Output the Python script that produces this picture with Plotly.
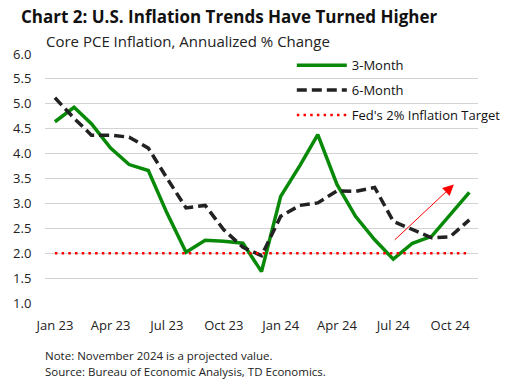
import plotly.graph_objects as go

months = ["2023-01-01", "2023-02-01", "2023-03-01", "2023-04-01", "2023-05-01", "2023-06-01",
          "2023-07-01", "2023-08-01", "2023-09-01", "2023-10-01", "2023-11-01", "2023-12-01",
          "2024-01-01", "2024-02-01", "2024-03-01", "2024-04-01", "2024-05-01", "2024-06-01",
          "2024-07-01", "2024-08-01", "2024-09-01", "2024-10-01", "2024-11-01"]
three_month = [4.64, 4.93, 4.60, 4.11, 3.78, 3.66, 2.81, 2.02, 2.26, 2.24, 2.20, 1.63,
               3.14, 3.76, 4.38, 3.38, 2.74, 2.27, 1.88, 2.20, 2.34, 2.78, 3.22]
six_month = [5.12, 4.71, 4.37, 4.37, 4.33, 4.11, 3.51, 2.91, 2.96, 2.47, 2.12, 1.95,
             2.74, 2.96, 3.01, 3.25, 3.24, 3.32, 2.64, 2.47, 2.31, 2.33, 2.67]
fed_target = [2.0] * len(months)
tick_vals = ["2023-01-01", "2023-04-01", "2023-07-01", "2023-10-01",
             "2024-01-01", "2024-04-01", "2024-07-01", "2024-10-01"]
tick_text = ["Jan 23", "Apr 23", "Jul 23", "Oct 23", "Jan 24", "Apr 24", "Jul 24", "Oct 24"]
arrow_start = ("2024-07-01", 2.24)
arrow_end = ("2024-10-07", 3.38)

FONT = "Open Sans"
W, H = 516.0, 385.0
ML, MR, MT, MB = 45, 10, 54, 82

fig = go.Figure()
fig.add_trace(go.Scatter(x=months, y=three_month, name="3-Month", mode="lines", legendgroup="a",
                         line=dict(color="#088a08", width=3.5)))
fig.add_trace(go.Scatter(x=months, y=six_month, name="6-Month", mode="lines", legendgroup="b",
                         line=dict(color="#222222", width=3.5, dash="10px,5px")))
fig.add_trace(go.Scatter(x=months, y=fed_target, name="Fed's 2% Inflation Target", mode="lines",
                         legendgroup="c",
                         line=dict(color="#ff0000", width=2.5, dash="2.5px,4.2px")))

fig.add_annotation(x=arrow_end[0], y=arrow_end[1], ax=arrow_start[0], ay=arrow_start[1],
                   xref="x", yref="y", axref="x", ayref="y", text="", showarrow=True,
                   arrowhead=2, arrowsize=2.2, arrowwidth=1, arrowcolor="#ff0000")

plot_h = H - MT - MB
plot_w = W - ML - MR
def px(xp):
    return (xp - ML) / plot_w
def py(yp):
    return (H - MB - yp) / plot_h

fig.add_annotation(text="<b>Chart 2: U.S. Inflation Trends Have Turned Higher</b>",
                   x=px(17), y=py(17), xref="paper", yref="paper", showarrow=False,
                   font=dict(family=FONT, size=17, color="#111111"),
                   xanchor="left", yanchor="middle")
fig.add_annotation(text="Core PCE Inflation, Annualized % Change",
                   x=px(44), y=py(41), xref="paper", yref="paper", showarrow=False,
                   font=dict(family=FONT, size=15, color="#222222"),
                   xanchor="left", yanchor="middle")
fig.add_annotation(text="Note: November 2024 is a projected value.",
                   x=px(43), y=py(355), xref="paper", yref="paper", showarrow=False,
                   font=dict(family=FONT, size=11.5, color="#222222"),
                   xanchor="left", yanchor="middle")
fig.add_annotation(text="Source: Bureau of Economic Analysis, TD Economics.",
                   x=px(43), y=py(371), xref="paper", yref="paper", showarrow=False,
                   font=dict(family=FONT, size=11.5, color="#222222"),
                   xanchor="left", yanchor="middle")

fig.update_layout(
    width=W, height=H,
    margin=dict(l=ML, r=MR, t=MT, b=MB),
    paper_bgcolor="white", plot_bgcolor="white",
    font=dict(family=FONT, size=12, color="#222222"),
    showlegend=True,
    legend=dict(x=0.57, y=1.015, xanchor="left", yanchor="top",
                bgcolor="rgba(0,0,0,0)", font=dict(size=13, color="#111111"),
                tracegroupgap=5, itemwidth=50),
    xaxis=dict(range=["2022-12-16", "2024-11-15"], tickvals=tick_vals, ticktext=tick_text,
               showgrid=False, zeroline=False, showline=False,
               ticks="outside", ticklen=10, tickcolor="rgba(0,0,0,0)",
               tickfont=dict(size=13)),
    yaxis=dict(range=[1.0, 6.0], dtick=0.5, tickformat=".1f",
               showgrid=True, gridcolor="#d3d3d3", gridwidth=1, zeroline=False, showline=False,
               ticks="outside", ticklen=10, tickcolor="rgba(0,0,0,0)",
               tickfont=dict(size=13)),
)

fig.write_html("out.html", config={"displayModeBar": False},
               post_script="document.body.style.margin='0';")
